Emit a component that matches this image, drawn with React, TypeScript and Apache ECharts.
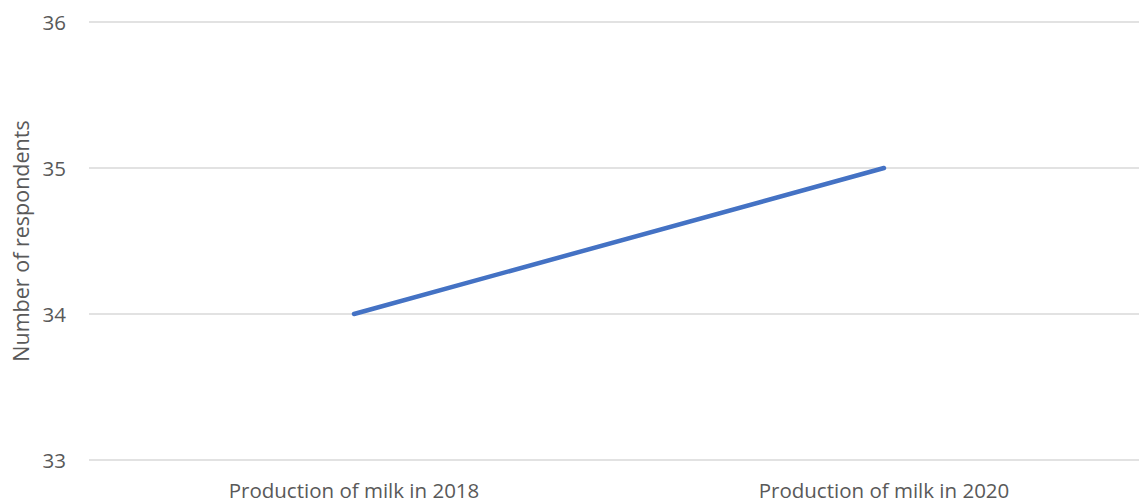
import React, { useEffect, useRef } from "react";
import * as echarts from "echarts";

const categories = ["Production of milk in 2018", "Production of milk in 2020"];
const respondents = [34, 35];
const yAxisName = "Number of respondents";

export default function App() {
  const ref = useRef<HTMLDivElement>(null);
  useEffect(() => {
    if (!ref.current) return;
    const chart = echarts.init(ref.current, undefined, { renderer: "svg" });
    chart.setOption({
      animation: false,
      backgroundColor: "#ffffff",
      grid: { left: 89, top: 22, width: 1060, height: 438, containLabel: false, outerBoundsMode: "none" },
      xAxis: {
        type: "category",
        data: categories,
        boundaryGap: true,
        axisLine: { show: false },
        axisTick: { show: false },
        axisLabel: { color: "#595959", fontSize: 20.5, fontFamily: "Open Sans", margin: 19 },
      },
      yAxis: {
        type: "value",
        min: 33,
        max: 36,
        interval: 1,
        name: yAxisName,
        nameLocation: "middle",
        nameGap: 58,
        nameRotate: 90,
        nameTextStyle: { color: "#595959", fontSize: 21.5, fontFamily: "Open Sans" },
        axisLine: { show: false },
        axisTick: { show: false },
        axisLabel: { color: "#595959", fontSize: 20.5, fontFamily: "Open Sans", margin: 23 },
        splitLine: { lineStyle: { color: "#d9d9d9", width: 1.5 } },
      },
      series: [
        {
          type: "line",
          data: respondents,
          showSymbol: false,
          symbol: "none",
          lineStyle: { color: "#4472C4", width: 4.5, cap: "round" },
        },
      ],
    });
    return () => chart.dispose();
  }, []);
  return (
    <div
      ref={ref}
      style={{ position: "fixed", left: 0, top: 0, width: 1139, height: 502, overflow: "hidden" }}
    />
  );
}
